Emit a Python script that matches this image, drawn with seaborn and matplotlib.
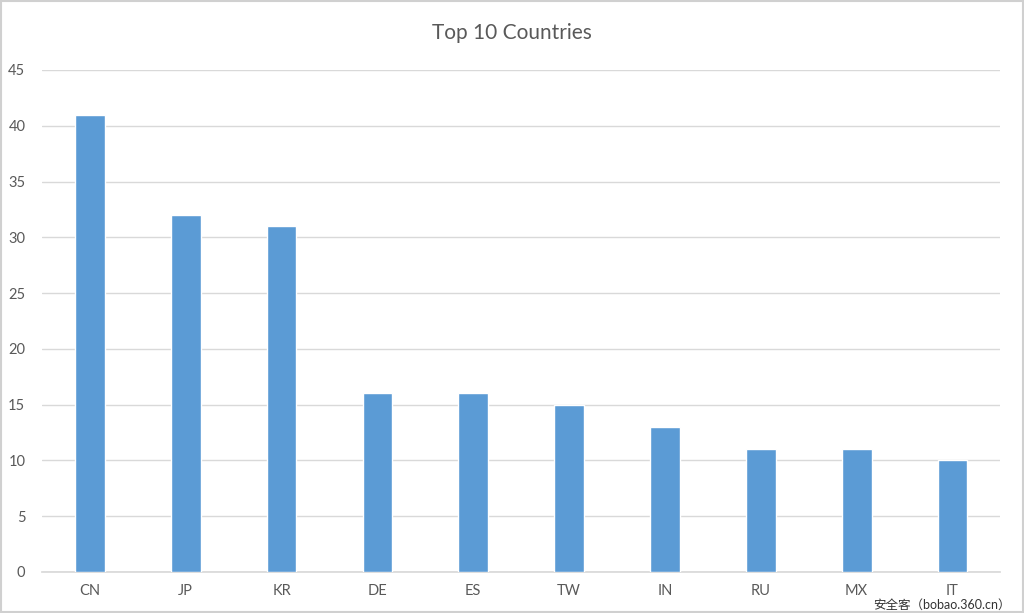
import matplotlib
matplotlib.use("Agg")
import matplotlib.pyplot as plt
import seaborn as sns
import pandas as pd

countries = ["CN", "JP", "KR", "DE", "ES", "TW", "IN", "RU", "MX", "IT"]
counts = [41, 32, 31, 16, 16, 15, 13, 11, 11, 10]
yticks = [0, 5, 10, 15, 20, 25, 30, 35, 40, 45]

sns.set_theme(style="white")
plt.rcParams['font.family'] = ['Lato', 'Noto Sans CJK SC', 'DejaVu Sans']

df = pd.DataFrame({"country": countries, "count": counts})

fig = plt.figure(figsize=(10.24, 6.13), dpi=100)
ax = fig.add_axes([0.041, 0.0669, 0.936, 0.819])
sns.barplot(data=df, x="country", y="count", color="#5B9BD5", width=0.31,
            saturation=1, ax=ax, zorder=3)

ax.set_ylim(0, 45)
ax.set_yticks(yticks)
ax.yaxis.grid(True, color="#D9D9D9", linewidth=1, zorder=0)
ax.set_xlabel("")
ax.set_ylabel("")
for s in ["top", "right", "left"]:
    ax.spines[s].set_visible(False)
ax.spines["bottom"].set_color("#D9D9D9")
ax.tick_params(axis="both", length=0, labelsize=10.5, labelcolor="#595959")
ax.tick_params(axis="y", pad=12)
ax.tick_params(axis="x", pad=9)

fig.text(0.5, 1 - 33 / 613, "Top 10 Countries", ha="center", va="center",
         fontsize=15, color="#595959")
fig.text(0.987, 1 - 605 / 613, "安全客（bobao.360.cn）", ha="right", va="center",
         fontsize=9, color="#333333")

fig.patches.append(plt.Rectangle((0.001, 0.001), 0.998, 0.997, transform=fig.transFigure,
                                 fill=False, edgecolor="#D0D0D0", linewidth=1.5))
fig.savefig("out.png", dpi=100, facecolor="white")
